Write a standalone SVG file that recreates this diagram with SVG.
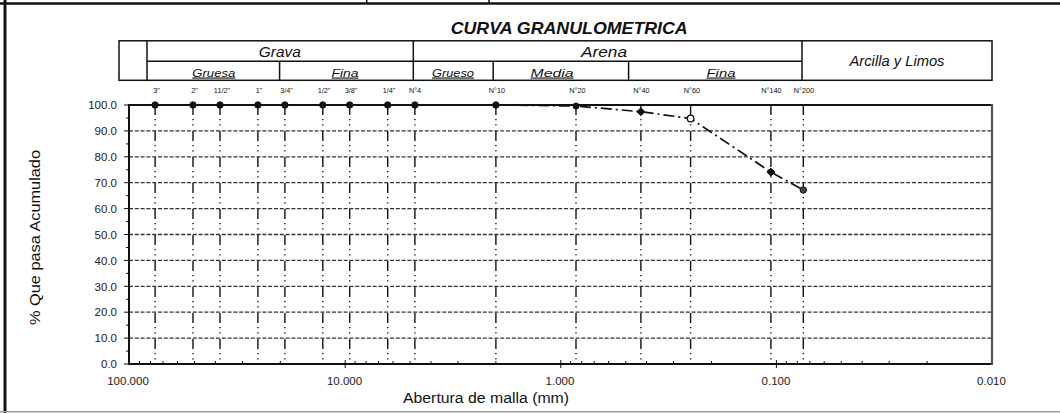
<svg xmlns="http://www.w3.org/2000/svg" width="1060" height="413" viewBox="0 0 1060 413">
<style>
text{font-family:"Liberation Sans",Arial,sans-serif;fill:#111}
.hd{font-style:italic;font-size:14px}
.sub{font-style:italic;font-size:11px;text-decoration:underline}
.sv{font-size:7.3px;text-anchor:middle}
.yl{font-size:11.5px;text-anchor:end;fill:#222}
.xl{font-size:11.5px;text-anchor:middle;fill:#222}
.tb{stroke:#111;stroke-width:1.5;fill:none}
.grid{stroke:#333;stroke-width:1.3;stroke-dasharray:4 1.8;fill:none}
.sieve{stroke:#111;stroke-width:1.4;stroke-dasharray:10 4 1.3 4 1.3 5.4;fill:none}
.ax{stroke:#111;stroke-width:2;fill:none}
.tk{stroke:#111;stroke-width:1;fill:none}
.curve{stroke:#111;stroke-width:1.7;stroke-dasharray:11 4 2 4;fill:none}
.pt{fill:#111;stroke:#111;stroke-width:1}
</style>

<!-- page frame -->
<g id="frame">
  <line x1="0" y1="3.5" x2="1060" y2="3.5" stroke="#111" stroke-width="2.5"/>
  <line x1="366.7" y1="0" x2="366.7" y2="3" stroke="#111" stroke-width="1.5"/>
  <line x1="489" y1="0" x2="489" y2="3" stroke="#111" stroke-width="1.5"/>
  <line x1="5" y1="0" x2="5" y2="413" stroke="#111" stroke-width="3"/>
  <line x1="0" y1="411.8" x2="1060" y2="411.8" stroke="#999" stroke-width="1.5"/>
</g>

<text id="title" x="450.7" y="34" font-size="17" font-weight="bold" font-style="italic" textLength="237" lengthAdjust="spacingAndGlyphs">CURVA GRANULOMETRICA</text>

<!-- classification header -->
<g id="header">
  <rect class="tb" x="119" y="40.8" width="873" height="39.5"/>
  <line class="tb" x1="147" y1="40.8" x2="147" y2="80.3"/>
  <line class="tb" x1="147" y1="61.2" x2="802" y2="61.2"/>
  <line class="tb" x1="279.6" y1="61.2" x2="279.6" y2="80.3"/>
  <line class="tb" x1="413.3" y1="40.8" x2="413.3" y2="80.3"/>
  <line class="tb" x1="493.2" y1="61.2" x2="493.2" y2="80.3"/>
  <line class="tb" x1="628.6" y1="61.2" x2="628.6" y2="80.3"/>
  <line class="tb" x1="802" y1="40.8" x2="802" y2="80.3"/>
  <text class="hd" x="279.8" y="57" text-anchor="middle" textLength="42" lengthAdjust="spacingAndGlyphs">Grava</text>
  <text class="hd" x="604" y="57" text-anchor="middle" textLength="46" lengthAdjust="spacingAndGlyphs">Arena</text>
  <text class="hd" x="897" y="66" font-size="12.5" text-anchor="middle" textLength="95" lengthAdjust="spacingAndGlyphs">Arcilla y Limos</text>
  <text class="sub" x="213.8" y="76.5" text-anchor="middle" textLength="43" lengthAdjust="spacingAndGlyphs">Gruesa</text>
  <text class="sub" x="345" y="76.5" text-anchor="middle" textLength="27" lengthAdjust="spacingAndGlyphs">Fina</text>
  <text class="sub" x="453" y="76.5" text-anchor="middle" textLength="42" lengthAdjust="spacingAndGlyphs">Grueso</text>
  <text class="sub" x="552" y="76.5" text-anchor="middle" textLength="43" lengthAdjust="spacingAndGlyphs">Media</text>
  <text class="sub" x="721" y="76.5" text-anchor="middle" textLength="29" lengthAdjust="spacingAndGlyphs">Fina</text>
</g>

<!-- sieve labels -->
<g id="sieve-labels">
  <text class="sv" x="156.5" y="92.5">3"</text>
  <text class="sv" x="194.5" y="92.5">2"</text>
  <text class="sv" x="222" y="92.5">11/2"</text>
  <text class="sv" x="259" y="92.5">1"</text>
  <text class="sv" x="286.5" y="92.5">3/4"</text>
  <text class="sv" x="324" y="92.5">1/2"</text>
  <text class="sv" x="351" y="92.5">3/8"</text>
  <text class="sv" x="389" y="92.5">1/4"</text>
  <text class="sv" x="415" y="92.5">N°4</text>
  <text class="sv" x="497" y="92.5">N°10</text>
  <text class="sv" x="577.5" y="92.5">N°20</text>
  <text class="sv" x="641.5" y="92.5">N°40</text>
  <text class="sv" x="692" y="92.5">N°60</text>
  <text class="sv" x="771.5" y="92.5">N°140</text>
  <text class="sv" x="804" y="92.5">N°200</text>
</g>

<!-- grid -->
<g id="grid">
  <line class="grid" x1="129" y1="130.9" x2="992" y2="130.9"/>
  <line class="grid" x1="129" y1="156.8" x2="992" y2="156.8"/>
  <line class="grid" x1="129" y1="182.7" x2="992" y2="182.7"/>
  <line class="grid" x1="129" y1="208.6" x2="992" y2="208.6"/>
  <line class="grid" x1="129" y1="234.5" x2="992" y2="234.5"/>
  <line class="grid" x1="129" y1="260.4" x2="992" y2="260.4"/>
  <line class="grid" x1="129" y1="286.3" x2="992" y2="286.3"/>
  <line class="grid" x1="129" y1="312.2" x2="992" y2="312.2"/>
  <line class="grid" x1="129" y1="338.1" x2="992" y2="338.1"/>
</g>

<!-- sieve verticals -->
<g id="connectors">
  <line class="sieve" x1="155.1" y1="105" x2="155.1" y2="364"/>
  <line class="sieve" x1="193" y1="105" x2="193" y2="364"/>
  <line class="sieve" x1="220" y1="105" x2="220" y2="364"/>
  <line class="sieve" x1="257.9" y1="105" x2="257.9" y2="364"/>
  <line class="sieve" x1="284.9" y1="105" x2="284.9" y2="364"/>
  <line class="sieve" x1="322.8" y1="105" x2="322.8" y2="364"/>
  <line class="sieve" x1="349.7" y1="105" x2="349.7" y2="364"/>
  <line class="sieve" x1="387.7" y1="105" x2="387.7" y2="364"/>
  <line class="sieve" x1="414.9" y1="105" x2="414.9" y2="364"/>
  <line class="sieve" x1="495.9" y1="105" x2="495.9" y2="364"/>
  <line class="sieve" x1="576" y1="105" x2="576" y2="364"/>
  <line class="sieve" x1="640.9" y1="105" x2="640.9" y2="364"/>
  <line class="sieve" x1="690.6" y1="105" x2="690.6" y2="364"/>
  <line class="sieve" x1="770.9" y1="105" x2="770.9" y2="364"/>
  <line class="sieve" x1="803.3" y1="105" x2="803.3" y2="364"/>
  <!-- grading curve -->
  <polyline class="curve" points="495.9,105 576,106 640.9,111.7 690.6,118.5 770.9,172.1 803.3,190"/>
</g>

<!-- axes -->
<g id="axes">
  <line class="ax" x1="129" y1="105" x2="992" y2="105"/>
  <line class="ax" x1="129" y1="104" x2="129" y2="365"/>
  <line class="ax" x1="128" y1="364" x2="993" y2="364"/>
  <line x1="992" y1="104" x2="992" y2="365" stroke="#555" stroke-width="2.2"/>
  <path class="tk" d="M124,105H129M124,130.9H129M124,156.8H129M124,182.7H129M124,208.6H129M124,234.5H129M124,260.4H129M124,286.3H129M124,312.2H129M124,338.1H129M124,364H129
  M126,118H129M126,143.9H129M126,169.8H129M126,195.7H129M126,221.6H129M126,247.5H129M126,273.4H129M126,299.3H129M126,325.2H129M126,351.1H129"/>
  <path class="tk" d="M345.2,360V368M560.8,360V368M776.4,360V368
  M139.5,364v-3M150.5,364v-3M163,364v-3M177.4,364v-3M194.5,364v-3M215.4,364v-3M242.4,364v-3M280.3,364v-3
  M355.1,364v-3M366.1,364v-3M378.6,364v-3M393,364v-3M410.1,364v-3M431,364v-3M458,364v-3M495.9,364v-3
  M570.7,364v-3M581.7,364v-3M594.2,364v-3M608.6,364v-3M625.7,364v-3M646.6,364v-3M673.6,364v-3M711.5,364v-3
  M786.3,364v-3M797.3,364v-3M809.8,364v-3M824.2,364v-3M841.3,364v-3M862.2,364v-3M889.2,364v-3M927.1,364v-3"/>
</g>

<!-- data points -->
<g id="points">
  <circle class="pt" cx="155.1" cy="105" r="3.2"/>
  <circle class="pt" cx="193" cy="105" r="3.2"/>
  <circle class="pt" cx="220" cy="105" r="3.2"/>
  <circle class="pt" cx="257.9" cy="105" r="3.2"/>
  <circle class="pt" cx="284.9" cy="105" r="3.2"/>
  <circle class="pt" cx="322.8" cy="105" r="3.2"/>
  <circle class="pt" cx="349.7" cy="105" r="3.2"/>
  <circle class="pt" cx="387.7" cy="105" r="3.2"/>
  <circle class="pt" cx="414.9" cy="105" r="3.2"/>
  <circle class="pt" cx="495.9" cy="105" r="3.2"/>
  <circle class="pt" cx="576" cy="106" r="3"/>
  <path class="pt" d="M636.9,111.7L640.9,107.7L644.9,111.7L640.9,115.7Z"/>
  <circle cx="690.6" cy="118.5" r="3.3" fill="#fff" stroke="#111" stroke-width="1.3"/>
  <path class="pt" d="M766.9,172.1L770.9,168.1L774.9,172.1L770.9,176.1Z"/>
  <circle cx="803.3" cy="190" r="3.2" fill="#444" stroke="#111" stroke-width="1"/>
</g>

<!-- axis labels -->
<g id="y-labels">
  <text class="yl" x="117" y="109.2">100.0</text>
  <text class="yl" x="117" y="135.1">90.0</text>
  <text class="yl" x="117" y="161">80.0</text>
  <text class="yl" x="117" y="186.9">70.0</text>
  <text class="yl" x="117" y="212.8">60.0</text>
  <text class="yl" x="117" y="238.7">50.0</text>
  <text class="yl" x="117" y="264.6">40.0</text>
  <text class="yl" x="117" y="290.5">30.0</text>
  <text class="yl" x="117" y="316.4">20.0</text>
  <text class="yl" x="117" y="342.3">10.0</text>
  <text class="yl" x="117" y="368.2">0.0</text>
</g>
<g id="x-labels">
  <text class="xl" x="128" y="384.6">100.000</text>
  <text class="xl" x="344.5" y="384.6">10.000</text>
  <text class="xl" x="560" y="384.6">1.000</text>
  <text class="xl" x="776" y="384.6">0.100</text>
  <text class="xl" x="991.5" y="384.6">0.010</text>
</g>
<text id="x-title" x="486" y="403" font-size="15.5" text-anchor="middle" fill="#222" textLength="166" lengthAdjust="spacingAndGlyphs">Abertura de malla (mm)</text>
<text id="y-title" transform="translate(39.5,237.5) rotate(-90)" font-size="15" text-anchor="middle" fill="#222" textLength="175" lengthAdjust="spacingAndGlyphs">% Que pasa Acumulado</text>
</svg>
